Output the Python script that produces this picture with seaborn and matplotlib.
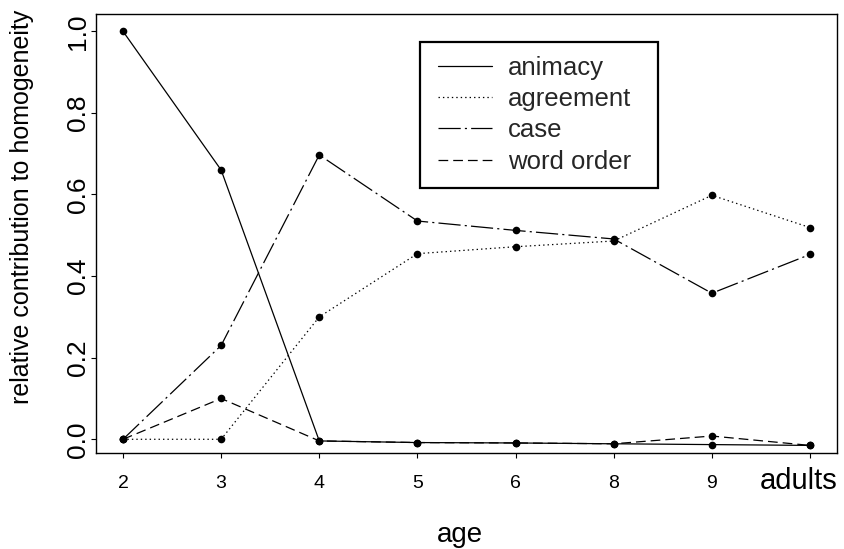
import matplotlib
matplotlib.use("Agg")
import matplotlib.pyplot as plt
from matplotlib.lines import Line2D
from matplotlib.patches import Rectangle
from matplotlib.transforms import ScaledTranslation
import pandas as pd
import seaborn as sns

# ---- data ----
ages = ["2", "3", "4", "5", "6", "8", "9", "adults"]
features = ["animacy", "agreement", "case", "word order"]
animacy = [1.0, 0.66, -0.004, -0.008, -0.009, -0.011, -0.013, -0.015]
agreement = [0.0, 0.0, 0.30, 0.455, 0.472, 0.486, 0.598, 0.519]
case = [0.0, 0.23, 0.697, 0.535, 0.512, 0.491, 0.358, 0.453]
word_order = [0.0, 0.10, -0.004, -0.008, -0.009, -0.011, 0.008, -0.015]
y_ticks = [0.0, 0.2, 0.4, 0.6, 0.8, 1.0]
y_tick_labels = ["0.0", "0.2", "0.4", "0.6", "0.8", "1.0"]

series = {"animacy": animacy, "agreement": agreement, "case": case, "word order": word_order}
rows = []
for feat in features:
    for i, (a, v) in enumerate(zip(ages, series[feat])):
        rows.append({"feature": feat, "age": a, "pos": i, "value": v})
df = pd.DataFrame(rows)

sns.set_theme(style="ticks")
plt.rcParams["font.family"] = ["Liberation Sans", "DejaVu Sans"]
plt.rcParams["lines.scale_dashes"] = False

dash_map = {"animacy": "", "agreement": (1.0, 2.2), "case": (16, 3, 1.5, 3), "word order": (7, 3.6)}
palette = {f: "black" for f in features}
markers = {f: "o" for f in features}

fig = plt.figure(figsize=(8.44, 5.49), dpi=100)
ax = fig.add_axes([96 / 844, (549 - 453) / 549, 741 / 844, 439 / 549])

sns.lineplot(data=df, x="pos", y="value", hue="feature", style="feature",
             hue_order=features, style_order=features, palette=palette,
             dashes=dash_map, markers=markers, markersize=5.5, markeredgewidth=0,
             linewidth=0.9, sort=False, legend=False, ax=ax)

ax.set_xlim(-0.275, 7.275)
ax.set_ylim(-0.0336, 1.0424)
ax.set_xticks(range(len(ages)))
ax.set_xticklabels(ages)
ax.set_yticks(y_ticks)
ax.set_yticklabels(y_tick_labels)

for sp in ax.spines.values():
    sp.set_visible(True)
    sp.set_color("black")
    sp.set_linewidth(1.0)

ax.tick_params(axis="both", direction="out", length=3.5, width=0.8, color="black")
ax.tick_params(axis="x", labelsize=14, pad=12, labelcolor="black")
ax.tick_params(axis="y", labelsize=19, pad=1, labelrotation=90, labelcolor="black")
for lab in ax.get_yticklabels():
    lab.set_va("center")

last = ax.get_xticklabels()[-1]
last.set_fontsize(21)
last.set_ha("right")
last.set_transform(last.get_transform() + ScaledTranslation(27 / 100, 8 / 100, fig.dpi_scale_trans))

ax.set_ylabel("relative contribution to homogeneity", fontsize=18, va="center", color="black")
ax.yaxis.set_label_coords(-0.0999, 0.56)
ax.set_xlabel("age", fontsize=20, va="center", color="black")
ax.xaxis.set_label_coords(0.4914, -0.186)

# legend box drawn as a frame, entries as a frameless legend inside it
box = Rectangle((0.4372, 0.6036), 0.7584 - 0.4372, 0.9362 - 0.6036, transform=ax.transAxes,
                facecolor="white", edgecolor="black", linewidth=1.6, zorder=4)
ax.add_patch(box)
handles = [Line2D([], [], color="black", linewidth=0.9, dashes=dash_map[f]) for f in features]
leg = ax.legend(handles, features, loc="upper left", bbox_to_anchor=((438 - 96) / 741, 0.9043),
                borderaxespad=0, borderpad=0, fontsize=18.5, frameon=False,
                handlelength=2.1, handletextpad=0.62, labelspacing=0.28)
leg.set_zorder(5)

fig.savefig("out.png", dpi=100)
